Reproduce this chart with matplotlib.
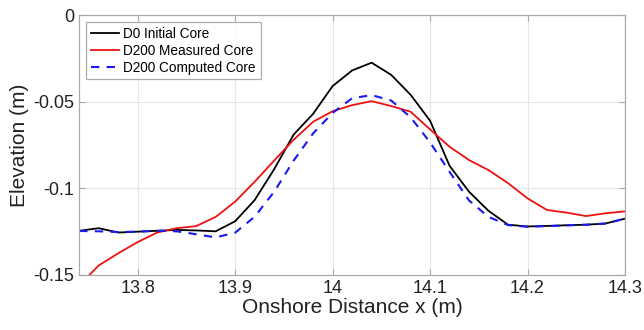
import numpy as np
import matplotlib
matplotlib.use("Agg")
import matplotlib.pyplot as plt

plt.rcParams['font.family'] = ['Liberation Sans', 'DejaVu Sans']

# onshore distance (m)
x = [13.74, 13.76, 13.78, 13.80, 13.82, 13.84, 13.86, 13.88, 13.90, 13.92,
     13.94, 13.96, 13.98, 14.00, 14.02, 14.04, 14.06, 14.08, 14.10, 14.12,
     14.14, 14.16, 14.18, 14.20, 14.22, 14.24, 14.26, 14.28, 14.30]

# D0 initial core
d0_initial = [-0.1245, -0.1230, -0.1255, -0.1250, -0.1245, -0.1240, -0.1243, -0.1248,
              -0.1190, -0.1068, -0.0890, -0.0690, -0.0570, -0.0410, -0.0320, -0.0275,
              -0.0345, -0.0460, -0.0610, -0.0870, -0.1020, -0.1130, -0.1210, -0.1220,
              -0.1217, -0.1213, -0.1210, -0.1203, -0.1175]

# D200 measured core
d200_measured = [-0.1560, -0.1445, -0.1375, -0.1310, -0.1255, -0.1230, -0.1218, -0.1165,
                 -0.1077, -0.0962, -0.0840, -0.0720, -0.0616, -0.0555, -0.0520, -0.0497,
                 -0.0525, -0.0558, -0.0660, -0.0760, -0.0837, -0.0895, -0.0970, -0.1058,
                 -0.1125, -0.1140, -0.1160, -0.1144, -0.1133]

# D200 computed core
d200_computed = [-0.1246, -0.1248, -0.1252, -0.1250, -0.1245, -0.1248, -0.1265, -0.1283,
                 -0.1256, -0.1164, -0.1020, -0.0840, -0.0683, -0.0565, -0.0480, -0.0462,
                 -0.0493, -0.0590, -0.0735, -0.0905, -0.1070, -0.1165, -0.1212, -0.1222,
                 -0.1218, -0.1214, -0.1210, -0.1203, -0.1175]

fig = plt.figure(figsize=(6.44, 3.30), dpi=100)
ax = fig.add_axes([0.123, 0.1667, 0.8475, 0.7878])

ax.plot(x, d0_initial, color='black', lw=1.3, label='D0 Initial Core')
ax.plot(x, d200_measured, color='#ee1111', lw=1.3, label='D200 Measured Core')
ax.plot(x, d200_computed, color='#1a1aee', lw=1.5, ls=(0, (4, 3.5)), label='D200 Computed Core')

ax.set_xlim(13.74, 14.3)
ax.set_ylim(-0.15, 0)
ax.set_xticks([13.8, 13.9, 14.0, 14.1, 14.2, 14.3])
ax.set_xticklabels(['13.8', '13.9', '14', '14.1', '14.2', '14.3'])
ax.set_yticks([-0.15, -0.1, -0.05, 0])
ax.set_yticklabels(['-0.15', '-0.1', '-0.05', '0'])
ax.grid(True, color='#e6e6e6', lw=0.8)
ax.set_axisbelow(True)
ax.tick_params(direction='in', length=4, color='#aaaaaa', labelsize=13,
               labelcolor='#222222', top=True, right=True)
for s in ax.spines.values():
    s.set_color('#aaaaaa')
    s.set_linewidth(0.9)

ax.set_xlabel('Onshore Distance x (m)', fontsize=15, color='#222222', labelpad=1)
ax.set_ylabel('Elevation (m)', fontsize=15, color='#222222', labelpad=3)

leg = ax.legend(loc='upper left', fontsize=9.8, frameon=True, fancybox=False,
                edgecolor='#999999', handlelength=2.1, handletextpad=0.3,
                labelspacing=0.22, borderpad=0.35, borderaxespad=0.5)
leg.get_frame().set_linewidth(0.9)

fig.savefig('out.png', dpi=100)
